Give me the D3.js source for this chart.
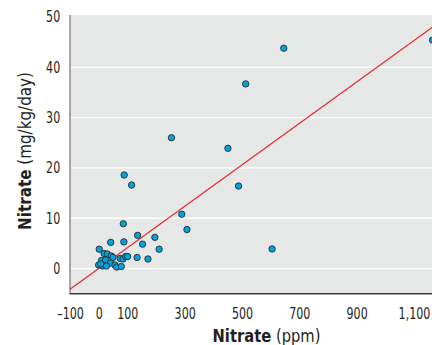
<!DOCTYPE html>
<html>
<head>
<meta charset="utf-8">
<script src="https://cdn.jsdelivr.net/npm/d3@7"></script>
<style>
  body { margin: 0; background: #fff; }
  text { font-family: "Liberation Sans Narrow", "DejaVu Sans Condensed", "Arial Narrow", sans-serif; font-stretch: condensed; }
</style>
</head>
<body>
<div id="chart"></div>
<script>
// nitrate in water (ppm) vs nitrate intake (mg/kg/day)
const ppm = [646, 513, 254, 451, 488, 89, 115, 290, 308, 605, 86, 136, 196, 153, 211,
  42, 88, 2, 134, 172, 1165,
  19, 30, 44, 50, 75, 85, 94, 101, 10, 24, 41, 57, 0, 14, 27, 63, 79, 7];
const dose = [43.8, 36.7, 26.0, 23.9, 16.4, 18.6, 16.6, 10.8, 7.75, 3.9, 8.9, 6.6, 6.2, 4.85, 3.85,
  5.2, 5.3, 3.85, 2.2, 1.9, 45.4,
  3.0, 2.9, 2.5, 2.2, 2.0, 1.9, 2.4, 2.4, 1.6, 1.7, 1.1, 0.7, 0.7, 0.5, 0.5, 0.3, 0.4, 0.9];

const fitX = [-100, 1170];
const fitY = [-4.1, 48.2];

const xTicks = [-100, 0, 100, 300, 500, 700, 900, 1100];
const xTickLabels = ["\u2013100", "0", "100", "300", "500", "700", "900", "1,100"];
const yTicks = [0, 10, 20, 30, 40, 50];

const width = 432, height = 345;
const mLeft = 70, mRight = 434, mTop = 15, mBottom = 293.7;
const squeeze = 0.82;

const svg = d3.select("#chart").append("svg")
  .attr("width", width)
  .attr("height", height);

const x = d3.scaleLinear().domain([-100, 1170]).range([mLeft, mRight]);
const y = d3.scaleLinear().domain([-5, 50.4]).range([mBottom, mTop]);

svg.append("rect")
  .attr("x", mLeft).attr("y", mTop)
  .attr("width", mRight - mLeft).attr("height", mBottom - mTop)
  .attr("fill", "#e6e7e7");

// horizontal grid
svg.append("g")
  .selectAll("line")
  .data(yTicks.filter(d => d < 50))
  .enter()
  .append("line")
  .attr("x1", mLeft).attr("x2", mRight)
  .attr("y1", d => y(d)).attr("y2", d => y(d))
  .attr("stroke", "#fff")
  .attr("stroke-width", 1.3);

// y axis labels
const yAxis = svg.append("g")
  .attr("transform", `translate(${mLeft},0)`)
  .call(d3.axisLeft(y).tickValues(yTicks).tickSize(0).tickPadding(12));
yAxis.attr("font-family", null);
yAxis.select(".domain").remove();
yAxis.selectAll("text")
  .attr("font-size", 15)
  .attr("fill", "#231f20")
  .attr("transform", `scale(${squeeze},1)`);

// x axis labels
const xAxis = svg.append("g")
  .attr("transform", `translate(0,${mBottom})`)
  .call(d3.axisBottom(x).tickValues(xTicks).tickSize(0).tickPadding(15)
    .tickFormat((d, i) => xTickLabels[i]));
xAxis.attr("font-family", null);
xAxis.select(".domain").remove();
xAxis.selectAll("text")
  .attr("font-size", 15)
  .attr("fill", "#231f20")
  .attr("transform", `scale(${squeeze},1)`);

// frame lines
svg.append("line")
  .attr("x1", mLeft).attr("x2", mLeft)
  .attr("y1", mTop).attr("y2", mBottom)
  .attr("stroke", "#58595b").attr("stroke-width", 1);
svg.append("line")
  .attr("x1", mLeft - 0.5).attr("x2", mRight)
  .attr("y1", mBottom).attr("y2", mBottom)
  .attr("stroke", "#3a3a3c").attr("stroke-width", 1.6);

// fitted line
svg.append("line")
  .attr("x1", x(fitX[0])).attr("y1", y(fitY[0]))
  .attr("x2", x(fitX[1])).attr("y2", y(fitY[1]))
  .attr("stroke", "#e8282e")
  .attr("stroke-width", 1.2);

// points
svg.append("g")
  .selectAll("circle")
  .data(ppm.map((d, i) => ({ ppm: d, dose: dose[i] })))
  .enter()
  .append("circle")
  .attr("cx", d => x(d.ppm))
  .attr("cy", d => y(d.dose))
  .attr("r", 3.2)
  .attr("fill", "#00a3dd")
  .attr("stroke", "#2b2b2b")
  .attr("stroke-width", 0.9);

// axis titles, squeezed to the reference width
function title(g, w) {
  const t = g.append("text")
    .attr("text-anchor", "middle")
    .attr("font-size", 17)
    .attr("fill", "#231f20");
  t.append("tspan").attr("font-weight", "bold").text("Nitrate");
  t.append("tspan").text(g.attr("data-unit"));
  const len = t.node().getComputedTextLength();
  t.attr("transform", `scale(${w / len},1)`);
}

const xTitle = svg.append("g")
  .attr("data-unit", " (ppm)")
  .attr("transform", "translate(266.5,341.5)");
title(xTitle, 108);

const yTitle = svg.append("g")
  .attr("data-unit", " (mg/kg/day)")
  .attr("transform", "translate(30.5,151) rotate(-90)");
title(yTitle, 158);
</script>
</body>
</html>
